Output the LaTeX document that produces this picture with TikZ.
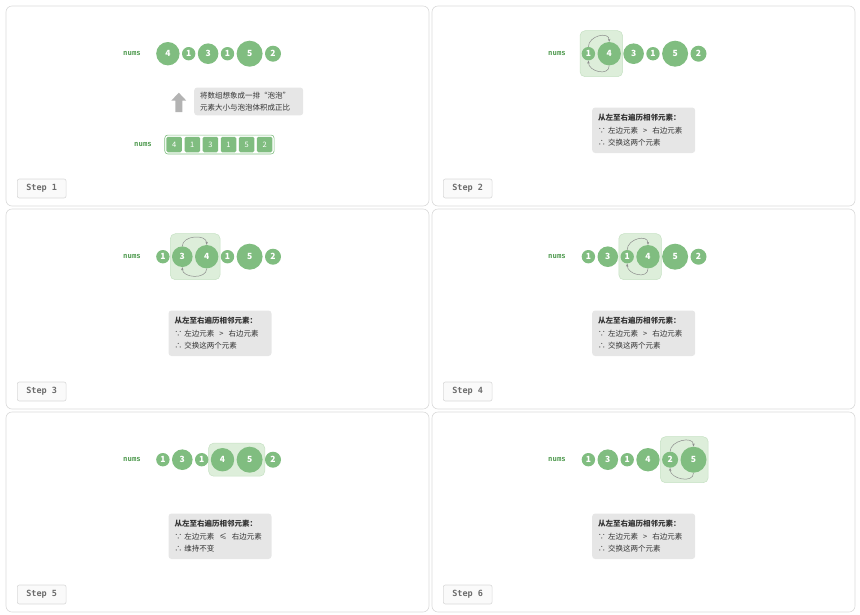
\documentclass[tikz,border=0pt]{standalone}
\usepackage{fontspec}
\setmainfont{Noto Sans CJK SC}
\newfontfamily\codefont{DejaVu Sans Mono}
\usetikzlibrary{positioning,fit,backgrounds,arrows.meta}

\definecolor{bubgreen}{HTML}{80BD80}
\definecolor{codegreen}{HTML}{4F9A4F}
\definecolor{boxgreen}{HTML}{DDEEDA}
\definecolor{boxline}{HTML}{C6E1C3}
\definecolor{notegray}{HTML}{E6E6E6}
\definecolor{textgray}{HTML}{333333}
\definecolor{framegray}{HTML}{D9D9D9}
\definecolor{arrowgray}{HTML}{B3B3B3}
\definecolor{curvegray}{HTML}{8C8C8C}

\begin{document}
\begin{tikzpicture}[x=1pt, y=-1pt,
    panel/.style = {draw=framegray, line width=0.6pt, rounded corners=6pt},
    bub/.style = {circle, fill=bubgreen, text=white, inner sep=0pt, font=\bfseries\fontsize{8.5}{10}\selectfont},
    v1/.style = {bub, minimum size=13.4pt},
    v2/.style = {bub, minimum size=16pt},
    v3/.style = {bub, minimum size=20.6pt},
    v4/.style = {bub, minimum size=23.4pt},
    v5/.style = {bub, minimum size=26pt},
    cell/.style = {fill=bubgreen, text=white, rounded corners=1.5pt, minimum size=15.5pt, inner sep=0pt, font=\fontsize{7.5}{9}\selectfont},
    arrframe/.style = {draw=bubgreen, line width=0.6pt, rounded corners=3pt, inner sep=1.5pt},
    numsname/.style = {text=codegreen, font=\codefont\bfseries\fontsize{7.3}{8}\selectfont},
    swapbox/.style = {fill=boxgreen, draw=boxline, line width=0.5pt, rounded corners=5pt, inner xsep=1.5pt, inner ysep=0pt, minimum height=46pt},
    keepbox/.style = {fill=boxgreen, draw=boxline, line width=0.5pt, rounded corners=5pt, inner xsep=2pt, inner ysep=3.3pt},
    swaparrow/.style = {draw=curvegray, line width=0.5pt, -{Stealth[length=3pt,width=2.4pt]}},
    notebox/.style = {fill=notegray, text=textgray, rounded corners=3pt, align=left, inner xsep=6pt, font=\fontsize{7.5}{12.3}\selectfont},
    infobox/.style = {notebox, anchor=north west, text width=91pt, minimum height=45.5pt},
    stepbox/.style = {draw=framegray, fill=gray!4, line width=0.6pt, rounded corners=2pt, minimum width=48.7pt, minimum height=19pt, inner sep=0pt, text=gray!85!black, font=\codefont\bfseries\fontsize{8.5}{10}\selectfont}]

\useasboundingbox (0,0) rectangle (860,614);

% panel 1
\begin{scope}[shift={(6,6)}]
  \draw[panel] (0,0) rectangle (423,200);
  \node[numsname] (n1) at (126,47.7) {nums};
  \node[v4, anchor=west] (b11) at (150,47.7) {4};
  \node[v1, right=2pt of b11] (b12) {1};
  \node[v3, right=2pt of b12] (b13) {3};
  \node[v1, right=2pt of b13] (b14) {1};
  \node[v5, right=2pt of b14] (b15) {5};
  \node[v2, right=2pt of b15] (b16) {2};

  \fill[arrowgray] (172.8,86.7) -- (180.2,94.5) -- (176.3,94.5) -- (176.3,106)
    -- (169.3,106) -- (169.3,94.5) -- (165.4,94.5) -- cycle;
  \node[notebox, anchor=north west, text width=97pt, inner ysep=4.3pt] (t1) at (188,81.3)
    {将数组想象成一排“泡泡”\\元素大小与泡泡体积成正比};

  \node[numsname] (m1) at (137,138.5) {nums};
  \node[cell] (c1) at (168.2,138.5) {4};
  \node[cell, right=2.2pt of c1] (c2) {1};
  \node[cell, right=2.2pt of c2] (c3) {3};
  \node[cell, right=2.2pt of c3] (c4) {1};
  \node[cell, right=2.2pt of c4] (c5) {5};
  \node[cell, right=2.2pt of c5] (c6) {2};
  \node[arrframe, fit=(c1)(c6)] (arr) {};

  \node[stepbox] (s1) at (35.7,182.5) {Step 1};
\end{scope}

% panel 2
\begin{scope}[shift={(432,6)}]
  \draw[panel] (0,0) rectangle (423,200);
  \node[numsname] (n2) at (125,47.7) {nums};
  \node[v1, anchor=west] (b21) at (149.5,47.7) {1};
  \node[v4, right=2pt of b21] (b22) {4};
  \node[v3, right=2pt of b22] (b23) {3};
  \node[v1, right=2pt of b23] (b24) {1};
  \node[v5, right=2pt of b24] (b25) {5};
  \node[v2, right=2pt of b25] (b26) {2};
  \begin{scope}[on background layer]
    \node[swapbox, fit=(b21)(b22)] (h2) {};
  \end{scope}
  \draw[swaparrow] (b21.north) .. controls +(0,-11) and +(0,-11) .. (b22.north);
  \draw[swaparrow] (b22.south) .. controls +(0,11) and +(0,11) .. (b21.south);

  \node[infobox, inner ysep=6pt] (t2) at (160,101.3)
    {\textbf{从左至右遍历相邻元素：}\\∵\ 左边元素\ \ >\ \ 右边元素\\∴\ 交换这两个元素};

  \node[stepbox] (s2) at (35.7,182.5) {Step 2};
\end{scope}

% panel 3
\begin{scope}[shift={(6,209)}]
  \draw[panel] (0,0) rectangle (423,200);
  \node[numsname] (n3) at (126,47.7) {nums};
  \node[v1, anchor=west] (b31) at (150,47.7) {1};
  \node[v3, right=2pt of b31] (b32) {3};
  \node[v4, right=2pt of b32] (b33) {4};
  \node[v1, right=2pt of b33] (b34) {1};
  \node[v5, right=2pt of b34] (b35) {5};
  \node[v2, right=2pt of b35] (b36) {2};
  \begin{scope}[on background layer]
    \node[swapbox, fit=(b32)(b33)] (h3) {};
  \end{scope}
  \draw[swaparrow] (b32.north) .. controls +(0,-11) and +(0,-11) .. (b33.north);
  \draw[swaparrow] (b33.south) .. controls +(0,11) and +(0,11) .. (b32.south);

  \node[infobox, inner ysep=6pt] (t3) at (162.3,101.3)
    {\textbf{从左至右遍历相邻元素：}\\∵\ 左边元素\ \ >\ \ 右边元素\\∴\ 交换这两个元素};

  \node[stepbox] (s3) at (35.7,182.5) {Step 3};
\end{scope}

% panel 4
\begin{scope}[shift={(432,209)}]
  \draw[panel] (0,0) rectangle (423,200);
  \node[numsname] (n4) at (125,47.7) {nums};
  \node[v1, anchor=west] (b41) at (149.5,47.7) {1};
  \node[v3, right=2pt of b41] (b42) {3};
  \node[v1, right=2pt of b42] (b43) {1};
  \node[v4, right=2pt of b43] (b44) {4};
  \node[v5, right=2pt of b44] (b45) {5};
  \node[v2, right=2pt of b45] (b46) {2};
  \begin{scope}[on background layer]
    \node[swapbox, fit=(b43)(b44)] (h4) {};
  \end{scope}
  \draw[swaparrow] (b43.north) .. controls +(0,-11) and +(0,-11) .. (b44.north);
  \draw[swaparrow] (b44.south) .. controls +(0,11) and +(0,11) .. (b43.south);

  \node[infobox, inner ysep=6pt] (t4) at (160,101.3)
    {\textbf{从左至右遍历相邻元素：}\\∵\ 左边元素\ \ >\ \ 右边元素\\∴\ 交换这两个元素};

  \node[stepbox] (s4) at (35.7,182.5) {Step 4};
\end{scope}

% panel 5
\begin{scope}[shift={(6,412)}]
  \draw[panel] (0,0) rectangle (423,200);
  \node[numsname] (n5) at (126,47.7) {nums};
  \node[v1, anchor=west] (b51) at (150,47.7) {1};
  \node[v3, right=2pt of b51] (b52) {3};
  \node[v1, right=2pt of b52] (b53) {1};
  \node[v4, right=2pt of b53] (b54) {4};
  \node[v5, right=2pt of b54] (b55) {5};
  \node[v2, right=2pt of b55] (b56) {2};
  \begin{scope}[on background layer]
    \node[keepbox, fit=(b54)(b55)] (h5) {};
  \end{scope}

  \node[infobox, inner ysep=6pt] (t5) at (162.3,101.3)
    {\textbf{从左至右遍历相邻元素：}\\∵\ 左边元素\ \ ≤\ \ 右边元素\\∴\ 维持不变};

  \node[stepbox] (s5) at (35.7,182.5) {Step 5};
\end{scope}

% panel 6
\begin{scope}[shift={(432,412)}]
  \draw[panel] (0,0) rectangle (423,200);
  \node[numsname] (n6) at (125,47.7) {nums};
  \node[v1, anchor=west] (b61) at (149.5,47.7) {1};
  \node[v3, right=2pt of b61] (b62) {3};
  \node[v1, right=2pt of b62] (b63) {1};
  \node[v4, right=2pt of b63] (b64) {4};
  \node[v2, right=2pt of b64] (b65) {2};
  \node[v5, right=2pt of b65] (b66) {5};
  \begin{scope}[on background layer]
    \node[swapbox, fit=(b65)(b66)] (h6) {};
  \end{scope}
  \draw[swaparrow] (b65.north) .. controls +(0,-11) and +(0,-11) .. (b66.north);
  \draw[swaparrow] (b66.south) .. controls +(0,11) and +(0,11) .. (b65.south);

  \node[infobox, inner ysep=6pt] (t6) at (160,101.3)
    {\textbf{从左至右遍历相邻元素：}\\∵\ 左边元素\ \ >\ \ 右边元素\\∴\ 交换这两个元素};

  \node[stepbox] (s6) at (35.7,182.5) {Step 6};
\end{scope}
\end{tikzpicture}
\end{document}
